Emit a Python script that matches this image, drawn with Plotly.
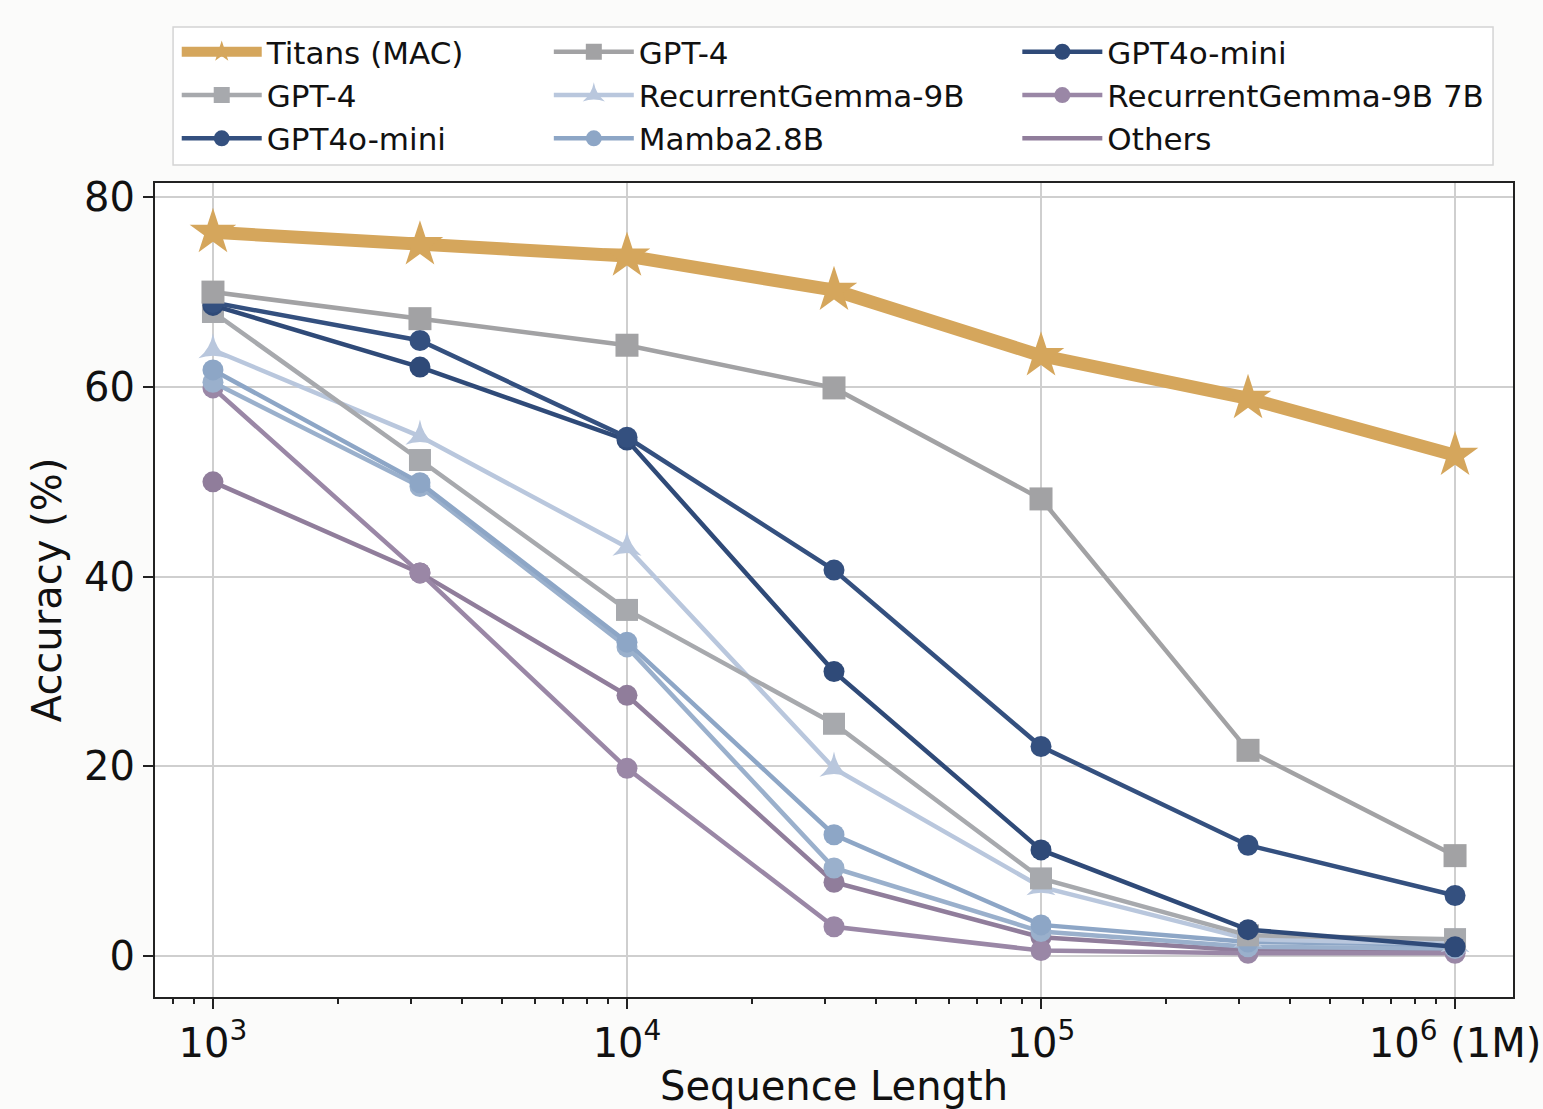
import plotly.graph_objects as go

seq_len = [1000, 3162, 10000, 31623, 100000, 316228, 1000000]

titans = [76.3, 75.0, 73.8, 70.2, 63.3, 58.8, 52.8]
gpt4_a = [70.0, 67.2, 64.4, 59.9, 48.2, 21.7, 10.6]
gpt4_b = [67.9, 52.3, 36.5, 24.5, 8.2, 2.2, 1.8]
gpt4o_a = [68.9, 64.9, 54.7, 40.7, 22.1, 11.7, 6.4]
gpt4o_b = [68.6, 62.1, 54.4, 30.0, 11.2, 2.8, 1.0]
rgemma = [63.9, 54.8, 43.1, 19.8, 7.3, 1.8, 1.3]
mamba = [61.8, 49.9, 33.1, 12.8, 3.3, 1.5, 1.2]
mamba_b = [60.5, 49.5, 32.6, 9.3, 2.6, 1.0, 0.8]
rgemma7 = [59.9, 40.4, 19.8, 3.1, 0.6, 0.3, 0.3]
others = [50.0, 40.4, 27.5, 7.8, 2.0, 0.6, 0.5]

x_tickvals = [1e3, 1e4, 1e5, 1e6]
x_ticktext = ["10<sup>3</sup>", "10<sup>4</sup>", "10<sup>5</sup>", "10<sup>6</sup> (1M)"]
x_minor = [m * 10 ** e for e in (2, 3, 4, 5, 6) for m in range(2, 10)]
y_tickvals = [0, 20, 40, 60, 80]

FONT = "DejaVu Sans"
fig = go.Figure()


def add(y, name, color, symbol, legend, rank, width=4.5, size=21, showlegend=True, mode="lines+markers"):
    fig.add_trace(go.Scatter(
        x=seq_len, y=y, name=name, mode=mode,
        line=dict(color=color, width=width),
        marker=dict(symbol=symbol, size=size, color=color, line=dict(width=0)),
        legend=legend, legendrank=rank, showlegend=showlegend,
    ))


add(others, "Others", "#907d9b", "circle", "legend3", 3, mode="lines")
add(others, "Others", "#907d9b", "circle", "legend3", 3, showlegend=False, mode="markers")
add(rgemma7, "RecurrentGemma-9B 7B", "#9a87a6", "circle", "legend3", 2)
add(mamba_b, "Mamba2.8B", "#9ab0cc", "circle", "legend2", 3, showlegend=False)
add(mamba, "Mamba2.8B", "#8da6c6", "circle", "legend2", 3)
add(rgemma, "RecurrentGemma-9B", "#b9c7dd", "star-triangle-up", "legend2", 2, size=21)
add(gpt4_b, "GPT-4", "#a7a9ad", "square", "legend", 2, size=22)
add(gpt4o_b, "GPT4o-mini", "#2f4a78", "circle", "legend3", 1)
add(gpt4o_a, "GPT4o-mini", "#34507f", "circle", "legend", 3)
add(gpt4_a, "GPT-4", "#a2a2a4", "square", "legend2", 1, size=23)
add(titans, "Titans (MAC)", "#d5a65c", "star", "legend", 1, width=13, size=35)

leg_common = dict(
    font=dict(family=FONT, size=31, color="#111111"),
    bgcolor="rgba(0,0,0,0)", borderwidth=0,
    yanchor="top", y=1.194, xanchor="left", itemwidth=80,
    traceorder="normal", tracegroupgap=0,
)

fig.update_layout(
    width=1543, height=1109,
    margin=dict(l=155, r=30, t=183, b=112),
    paper_bgcolor="#fbfbfa", plot_bgcolor="white",
    font=dict(family=FONT, color="#111111"),
    legend=dict(x=0.016, **leg_common),
    legend2=dict(x=0.290, **leg_common),
    legend3=dict(x=0.635, **leg_common),
    xaxis=dict(
        type="log", range=[2.86, 6.14], automargin=False,
        tickvals=x_tickvals, ticktext=x_ticktext,
        tickfont=dict(family=FONT, size=40, color="#111111"),
        ticks="outside", ticklen=10, tickwidth=2, tickcolor="#222222",
        showgrid=True, gridcolor="#cfcfcf", gridwidth=2,
        showline=True, linecolor="#222222", linewidth=2, mirror=True,
        minor=dict(tickmode="array", tickvals=x_minor, ticks="outside", ticklen=5,
                   tickwidth=1.5, tickcolor="#222222", showgrid=False),
        title=dict(text="Sequence Length", font=dict(family=FONT, size=40, color="#111111"), standoff=6),
        zeroline=False,
    ),
    yaxis=dict(
        range=[-4.3, 81.5], automargin=False,
        tickvals=y_tickvals,
        tickfont=dict(family=FONT, size=40, color="#111111"),
        ticks="outside", ticklen=10, tickwidth=2, tickcolor="#222222",
        showgrid=True, gridcolor="#cfcfcf", gridwidth=2,
        showline=True, linecolor="#222222", linewidth=2, mirror=True,
        title=dict(text="Accuracy (%)", font=dict(family=FONT, size=40, color="#111111"), standoff=10),
        zeroline=False,
    ),
    shapes=[dict(type="rect", xref="paper", yref="paper",
                 x0=0.0133, x1=0.9853, y0=1.0221, y1=1.1916,
                 line=dict(color="#d4d4d4", width=1.5), fillcolor="rgba(255,255,255,0.9)", layer="below")],
)

fig.write_html("out.html", config={"displayModeBar": False},
               post_script="document.body.style.margin='0';document.body.style.padding='0';")
